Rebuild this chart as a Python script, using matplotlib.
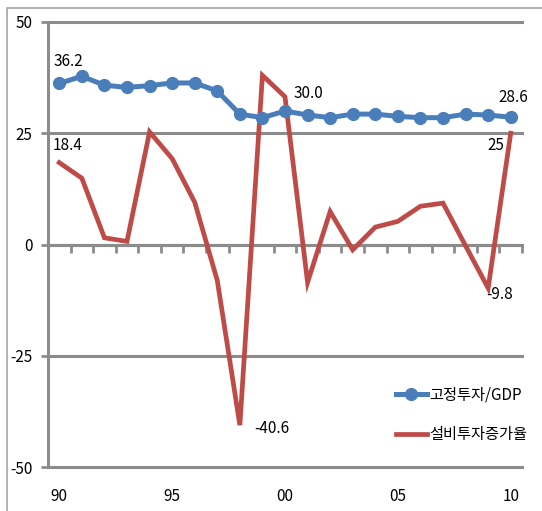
import matplotlib
matplotlib.use("Agg")
import matplotlib.pyplot as plt
from matplotlib.patches import Rectangle

plt.rcParams['font.family'] = ['Liberation Sans Narrow', 'Noto Sans CJK KR', 'DejaVu Sans']

years = list(range(1990, 2011))
fixed_inv_gdp = [36.2, 37.8, 35.8, 35.3, 35.7, 36.3, 36.3, 34.5, 29.3, 28.5, 30.0,
                 29.1, 28.5, 29.3, 29.3, 28.8, 28.5, 28.5, 29.3, 29.1, 28.6]
equip_inv_growth = [18.4, 14.9, 1.5, 0.7, 25.3, 19.3, 9.5, -8.1, -40.6, 38.0, 33.2,
                    -8.5, 7.4, -1.2, 3.9, 5.2, 8.6, 9.3, -0.3, -9.8, 25.0]
series_names = ['고정투자/GDP', '설비투자증가율']
xtick_years = [1990, 1995, 2000, 2005, 2010]
xtick_labels = ['90', '95', '00', '05', '10']
yticks = [-50, -25, 0, 25, 50]

blue = '#4A7EBB'
red = '#BE4B48'
grey = '#8C8C8C'

fig = plt.figure(figsize=(5.42, 5.11), dpi=100)
ax = fig.add_axes([48/542, 1-467/511, (522-48)/542, (467-22)/511])

# outer chart frame
fig.patches.append(Rectangle((7/542, -0.2), 1.2, 0.2 + 1 - 8/511, transform=fig.transFigure,
                             fill=False, edgecolor='#A6A6A6', lw=1.2, clip_on=False))

ax.set_xlim(1989.5, 2010.5)
ax.set_ylim(-50, 50)

for y in yticks:
    ax.axhline(y, color=grey, lw=2.2, zorder=1, clip_on=False)

ax.plot(years, fixed_inv_gdp, color=blue, lw=3.6, marker='o', ms=8.5,
        mfc=blue, mec=blue, zorder=4, label=series_names[0], solid_joinstyle='round')
ax.plot(years, equip_inv_growth, color=red, lw=3.4, zorder=3,
        label=series_names[1], solid_joinstyle='miter')

# spines and ticks
for s in ['top', 'right']:
    ax.spines[s].set_visible(False)
ax.spines['left'].set_color(grey)
ax.spines['left'].set_linewidth(2.2)
ax.spines['bottom'].set_position(('data', 0))
ax.spines['bottom'].set_color(grey)
ax.spines['bottom'].set_linewidth(2.2)
ax.set_xticks([])
ax.set_xticks([y + 0.5 for y in years], minor=True)
ax.tick_params(axis='x', which='minor', direction='out', length=6, width=2, color=grey)
ax.set_yticks(yticks)
ax.set_yticklabels([str(v) for v in yticks])
ax.tick_params(axis='y', direction='out', length=5, width=2, color=grey,
               labelsize=11, pad=6)

sec = ax.secondary_xaxis('bottom')
sec.set_xticks(xtick_years)
sec.set_xticklabels(xtick_labels)
sec.tick_params(length=0, labelsize=11, pad=15)
sec.spines['bottom'].set_visible(False)

def label(series, i, text, dx, dy, ha='left', va='center'):
    ax.annotate(text, (years[i], series[i]), xytext=(dx, dy), textcoords='offset pixels',
                ha=ha, va=va, fontsize=11, annotation_clip=False)

label(fixed_inv_gdp, 0, '36.2', -6, 22)
label(fixed_inv_gdp, 10, '30.0', 9, 18)
label(fixed_inv_gdp, 20, '28.6', -12, 20)
label(equip_inv_growth, 0, '18.4', -7, 17)
label(equip_inv_growth, 8, '-40.6', 14, -3)
label(equip_inv_growth, 19, '-9.8', -2, -6)
label(equip_inv_growth, 20, '25', -6, -12, ha='right')

ax.legend(loc='upper left', bbox_to_anchor=(396/542, 1-386/511), bbox_transform=fig.transFigure,
          frameon=False, fontsize=11, handlelength=2.0, handletextpad=0.2,
          labelspacing=1.5, borderpad=0, borderaxespad=0)

fig.savefig('out.png', dpi=100)
